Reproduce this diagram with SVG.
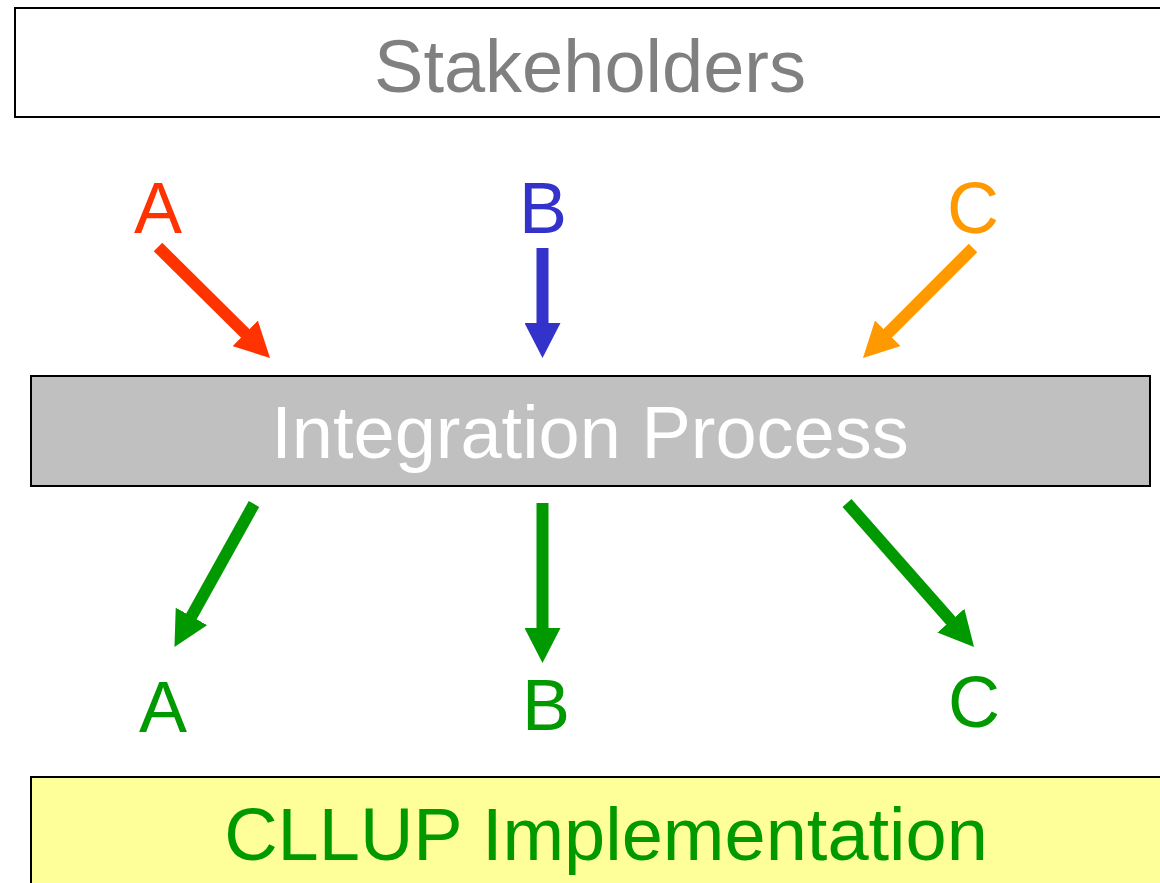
<svg xmlns="http://www.w3.org/2000/svg" width="1160" height="883" viewBox="0 0 1160 883">
<style>
.box{stroke:#000;stroke-width:2}
.t{font-family:"Liberation Sans",Arial,sans-serif;font-size:74px;text-anchor:middle}
.l{font-family:"Liberation Sans",Arial,sans-serif;font-size:72px;text-anchor:middle}
.arr{stroke-width:12;fill:none}
</style>
<defs>
<marker id="hr" viewBox="0 0 36 36" markerWidth="36" markerHeight="36" markerUnits="userSpaceOnUse" refX="2" refY="18" orient="auto"><path d="M0,0 L35,18 L0,36 z" fill="#ff3300"/></marker>
<marker id="hb" viewBox="0 0 36 36" markerWidth="36" markerHeight="36" markerUnits="userSpaceOnUse" refX="2" refY="18" orient="auto"><path d="M0,0 L35,18 L0,36 z" fill="#3333cc"/></marker>
<marker id="ho" viewBox="0 0 36 36" markerWidth="36" markerHeight="36" markerUnits="userSpaceOnUse" refX="2" refY="18" orient="auto"><path d="M0,0 L35,18 L0,36 z" fill="#ff9900"/></marker>
<marker id="hg" viewBox="0 0 36 36" markerWidth="36" markerHeight="36" markerUnits="userSpaceOnUse" refX="2" refY="18" orient="auto"><path d="M0,0 L35,18 L0,36 z" fill="#009900"/></marker>
</defs>
<rect width="1160" height="883" fill="#fff"/>
<g id="stakeholders">
<rect class="box" x="15" y="8" width="1160" height="109" fill="#fff"/>
<text class="t" x="590" y="92" fill="#808080">Stakeholders</text>
</g>
<g id="integration">
<rect class="box" x="31" y="376" width="1119" height="110" fill="#c0c0c0"/>
<text class="t" x="590" y="458" fill="#fff">Integration Process</text>
</g>
<g id="cllup">
<rect class="box" x="31" y="777" width="1150" height="120" fill="#ffff99"/>
<text class="t" x="606" y="860" fill="#009900">CLLUP Implementation</text>
</g>
<g id="labels">
<text class="l" x="158" y="233" fill="#ff3300">A</text>
<text class="l" x="543" y="233" fill="#3333cc">B</text>
<text class="l" x="973" y="233" fill="#ff9900">C</text>
<text class="l" x="163" y="732" fill="#009900">A</text>
<text class="l" x="546" y="730" fill="#009900">B</text>
<text class="l" x="974" y="727" fill="#009900">C</text>
</g>
<g id="connectors">
<line class="arr" x1="158" y1="247" x2="246.6" y2="334.8" stroke="#ff3300" marker-end="url(#hr)"/>
<line class="arr" x1="542.5" y1="248" x2="542.5" y2="325" stroke="#3333cc" marker-end="url(#hb)"/>
<line class="arr" x1="973" y1="248" x2="886.3" y2="334.7" stroke="#ff9900" marker-end="url(#ho)"/>
<line class="arr" x1="254" y1="504" x2="190.5" y2="618.2" stroke="#009900" marker-end="url(#hg)"/>
<line class="arr" x1="542.5" y1="503" x2="542.5" y2="630" stroke="#009900" marker-end="url(#hg)"/>
<line class="arr" x1="847" y1="503" x2="952.2" y2="622.2" stroke="#009900" marker-end="url(#hg)"/>
</g>
</svg>
